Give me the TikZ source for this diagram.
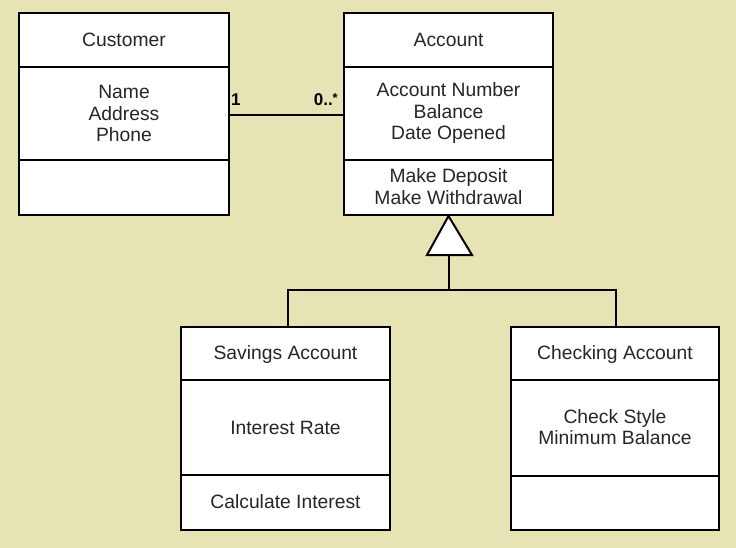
\documentclass[tikz,border=0pt]{standalone}
\usepackage{fontspec}
\setmainfont{Liberation Sans}
\begin{document}
\begin{tikzpicture}[x=1pt,y=-1pt,
  box/.style={draw=black,fill=white,line width=2pt,rectangle,inner sep=0pt},
  txt/.style={font=\fontsize{19.3}{21.5}\selectfont,text=black!85,align=center,inner sep=0pt,anchor=center},
  mult/.style={font=\fontsize{17}{20}\selectfont\bfseries,inner sep=0pt},
  ln/.style={line width=2pt}]
\definecolor{bg}{RGB}{230,228,180}
\fill[bg] (0,0) rectangle (736,548);
\useasboundingbox (0,0) rectangle (736,548);
% Customer
\node[box,minimum width=210pt,minimum height=202pt] (cust) at (124,114) {};
\draw[ln] (19,67) -- (229,67);
\draw[ln] (19,160) -- (229,160);
\node[txt] (custT) at (124,40) {Customer};
\node[txt] (custA) at (124,113.5) {Name\\Address\\Phone};
% Account
\node[box,minimum width=209pt,minimum height=202pt] (acc) at (448.5,114) {};
\draw[ln] (344,67) -- (553,67);
\draw[ln] (344,160) -- (553,160);
\node[txt] (accT) at (448.5,40) {Account};
\node[txt] (accA) at (448.5,113.5) {Account Number\\Balance\\Date Opened};
\node[txt] (accM) at (448.5,186.5) {Make Deposit\\Make Withdrawal};
% association
\coordinate (al) at (229,115);
\coordinate (ar) at (344,115);
\draw[ln] (al) -- (ar);
\node[mult,anchor=west] (m1) at (231,100) {1};
\node[mult,anchor=east] (m2) at (338,100) {0..\raisebox{3pt}{\fontsize{13}{13}\selectfont *}};
% generalization
\coordinate (tip) at (448.5,216);
\coordinate (bl) at (427,255);
\coordinate (br) at (472,255);
\coordinate (tb) at (448.5,255);
\coordinate (jn) at (448.5,290);
\draw[ln,fill=white,line join=miter] (tip) -- (br) -- (bl) -- cycle;
% Savings
\node[box,minimum width=209pt,minimum height=203pt] (sav) at (285.5,428.5) {};
\draw[ln] (181,380) -- (390,380);
\draw[ln] (181,475) -- (390,475);
\node[txt] (savT) at (285.5,355) {Savings Account};
\node[txt] (savA) at (285.5,428) {Interest Rate};
\node[txt] (savM) at (285.5,502) {Calculate Interest};
% Checking
\node[box,minimum width=208pt,minimum height=203pt] (chk) at (615,428.5) {};
\draw[ln] (511,380) -- (719,380);
\draw[ln] (511,476) -- (719,476);
\node[txt] (chkT) at (615,355) {Checking Account};
\node[txt] (chkA) at (615,427) {Check Style\\Minimum Balance};
% connectors
\draw[ln] (tb) -- (jn);
\draw[ln] (sav.north -| 288,0) |- (jn) -| (chk.north -| 616,0);
\end{tikzpicture}
\end{document}
